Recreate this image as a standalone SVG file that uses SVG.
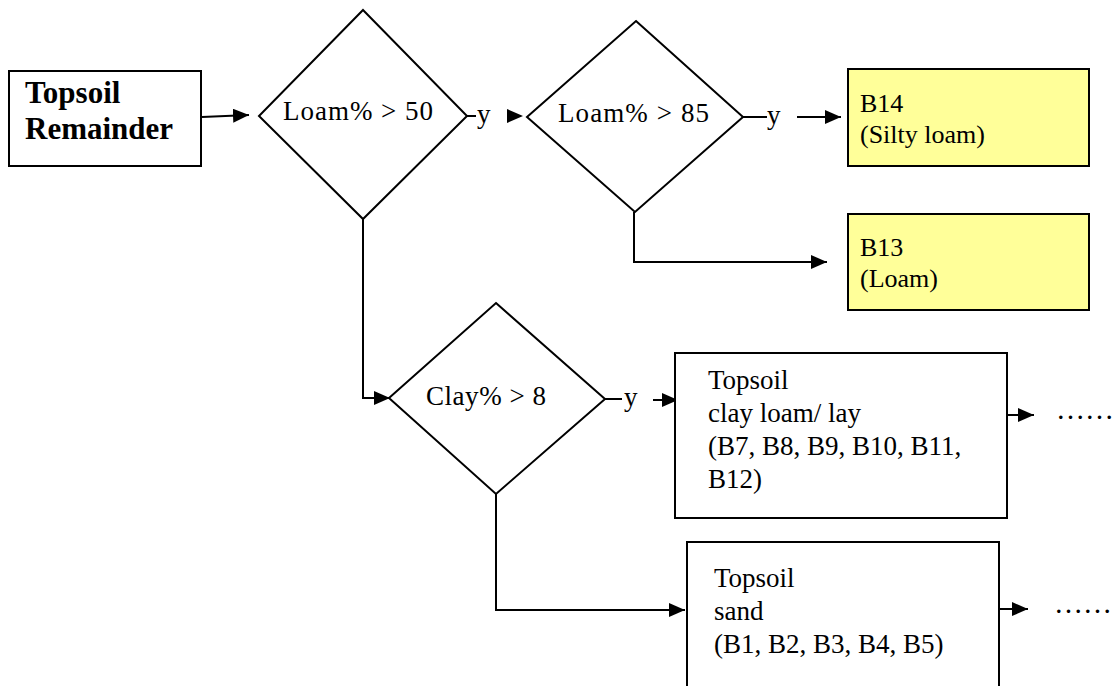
<svg xmlns="http://www.w3.org/2000/svg" width="1120" height="686" viewBox="0 0 1120 686" font-family="'Liberation Serif', 'Times New Roman', 'DejaVu Serif', serif">
  <defs>
    <marker id="arrow" markerUnits="userSpaceOnUse" markerWidth="17" markerHeight="15" refX="16" refY="7" orient="auto">
      <path d="M0,0 L16,7 L0,14 Z" fill="#000"/>
    </marker>
    <style>
      .box { fill: #fff; stroke: #000; stroke-width: 2; }
      .hl { fill: #ffff99; stroke: #000; stroke-width: 2; }
      .dia { fill: #fff; stroke: #000; stroke-width: 2; stroke-linejoin: miter; }
      .ln { fill: none; stroke: #000; stroke-width: 2; }
      .arr { fill: none; stroke: #000; stroke-width: 2; marker-end: url(#arrow); }
      .t { font-size: 27px; fill: #000; }
      .s { font-size: 26px; }
      .bold { font-weight: bold; font-size: 31px; }
      .dots { font-size: 29px; }
    </style>
  </defs>

  <rect width="1120" height="686" fill="#fff"/>

  <!-- connectors -->
  <g id="connectors">
    <path class="arr" d="M202,117 L249,115"/>
    <!-- yes branch of Loam% > 50 -->
    <line class="ln" x1="467" y1="116" x2="476" y2="116"/>
    <path d="M507,109 L523,116 L507,123 Z" fill="#000"/>
    <!-- yes branch of Loam% > 85 -->
    <line class="ln" x1="743" y1="117" x2="767" y2="117"/>
    <path class="arr" d="M797,117 L841,117"/>
    <!-- no branch of Loam% > 85 -->
    <path class="arr" d="M634,212 L634,262 L827,262"/>
    <!-- no branch of Loam% > 50 -->
    <path class="arr" d="M363,219 L363,398 L390,398"/>
    <!-- yes branch of Clay% > 8 -->
    <line class="ln" x1="605" y1="399" x2="622" y2="399"/>
    <path class="arr" d="M653,400 L678,400"/>
    <!-- no branch of Clay% > 8 -->
    <path class="arr" d="M496,494 L496,610 L685,610"/>
    <!-- continuations -->
    <path class="arr" d="M1007,415 L1034,415"/>
    <path class="arr" d="M999,609 L1028,609"/>
  </g>

  <!-- branch labels -->
  <g id="labels">
    <text class="t" x="477" y="123">y</text>
    <text class="t" x="767" y="124">y</text>
    <text class="t" x="624" y="406">y</text>
    <text class="t dots" x="1056" y="419">……</text>
    <text class="t dots" x="1054" y="613">……</text>
  </g>

  <g id="start">
    <rect class="box" x="9" y="71" width="192" height="95"/>
    <text class="t bold" x="25" y="103">Topsoil</text>
    <text class="t bold" x="25" y="139">Remainder</text>
  </g>

  <g id="loam50">
    <polygon class="dia" points="363,10 467,116 363,219 259,116"/>
    <text class="t" x="283" y="120" textLength="150" lengthAdjust="spacing">Loam% &gt; 50</text>
  </g>

  <g id="loam85">
    <polygon class="dia" points="636,21 743,117 635,212 527,117"/>
    <text class="t" x="558" y="122" textLength="151" lengthAdjust="spacing">Loam% &gt; 85</text>
  </g>

  <g id="b14">
    <rect class="hl" x="848" y="69" width="241" height="97"/>
    <text class="t s" x="860" y="112">B14</text>
    <text class="t s" x="860" y="143">(Silty loam)</text>
  </g>

  <g id="b13">
    <rect class="hl" x="848" y="214" width="241" height="96"/>
    <text class="t s" x="860" y="256">B13</text>
    <text class="t s" x="860" y="287">(Loam)</text>
  </g>

  <g id="clay8">
    <polygon class="dia" points="496,303 605,399 496,494 389,398"/>
    <text class="t" x="426" y="405" textLength="120" lengthAdjust="spacing">Clay% &gt; 8</text>
  </g>

  <g id="clayloam">
    <rect class="box" x="675" y="353" width="332" height="165"/>
    <text class="t" x="708" y="389">Topsoil</text>
    <text class="t" x="708" y="422">clay loam/ lay</text>
    <text class="t" x="708" y="455">(B7, B8, B9, B10, B11,</text>
    <text class="t" x="708" y="488">B12)</text>
  </g>

  <g id="sand">
    <rect class="box" x="687" y="542" width="312" height="160"/>
    <text class="t" x="714" y="587">Topsoil</text>
    <text class="t" x="714" y="620">sand</text>
    <text class="t" x="714" y="653">(B1, B2, B3, B4, B5)</text>
  </g>
</svg>
